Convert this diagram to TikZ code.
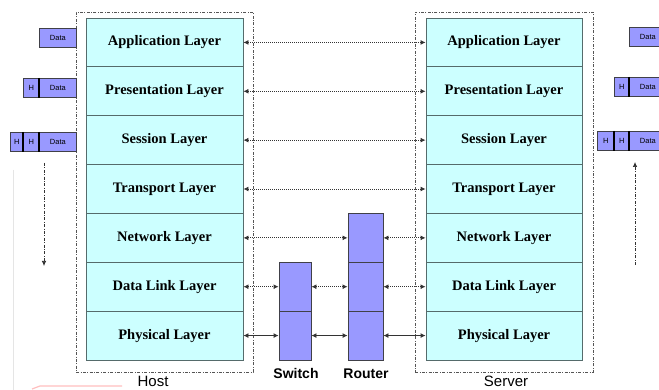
\documentclass[tikz,border=0pt]{standalone}
\usepackage{fontspec}
\setmainfont{Liberation Serif}
\setsansfont{Liberation Sans}
\usetikzlibrary{arrows.meta}
\definecolor{layerfill}{HTML}{CCFFFF}
\definecolor{layerline}{HTML}{556B6B}
\definecolor{devfill}{HTML}{9999FF}
\definecolor{devline}{HTML}{404048}
\definecolor{frameline}{HTML}{555555}
\definecolor{linkline}{HTML}{333333}
\tikzset{
  layer/.style={draw=layerline, fill=layerfill, line width=0.9pt, inner sep=0pt,
    minimum height=48.857pt, font=\fontsize{14.5}{14.5}\selectfont\bfseries},
  hostlayer/.style={layer, minimum width=157pt},
  srvlayer/.style={layer, minimum width=156pt},
  devbox/.style={draw=devline, fill=devfill, line width=0.9pt, inner sep=0pt,
    minimum height=48.857pt},
  frame/.style={draw=frameline, line width=0.7pt,
    dash pattern=on 3pt off 1.5pt on 0.8pt off 1.5pt, inner sep=0pt},
  pkt/.style={draw=devline, fill=devfill, line width=0.8pt, inner sep=0pt,
    minimum height=19pt, anchor=north west,
    font=\sffamily\fontsize{7.5}{7.5}\selectfont},
  peer/.style={{Latex[length=5pt,width=5pt]}-{Latex[length=5pt,width=5pt]},
    draw=linkline, line width=0.9pt, dash pattern=on 1pt off 1pt},
  wire/.style={{Latex[length=5pt,width=5pt]}-{Latex[length=5pt,width=5pt]},
    draw=linkline, line width=0.9pt},
  flow/.style={-{Latex[length=5pt,width=4.5pt]}, draw=linkline, line width=0.7pt,
    dash pattern=on 3pt off 1.5pt on 0.8pt off 1.5pt},
  caption/.style={font=\sffamily\fontsize{15}{15}\selectfont, anchor=base, inner sep=0pt},
  devcaption/.style={font=\sffamily\fontsize{14}{14}\selectfont\bfseries, anchor=base, inner sep=0pt},
}
\begin{document}
\begin{tikzpicture}[x=1pt, y=-1pt]
\useasboundingbox[fill=white] (0,0) rectangle (659,390);

% faint scan marks
\draw[black!10, line width=0.6pt] (13,170) -- (13,390);
\draw[red!25, line width=1.2pt] (32,389) -- (40,386) -- (122,386);

% dash-dot frames round the two end systems
\node[frame, minimum width=177pt, minimum height=360pt] (hostframe) at (164.5,192) {};
\node[frame, minimum width=178pt, minimum height=360pt] (srvframe) at (504,192) {};

% protocol stacks
\foreach \i/\name in {1/Application Layer, 2/Presentation Layer, 3/Session Layer,
    4/Transport Layer, 5/Network Layer, 6/Data Link Layer, 7/Physical Layer} {
  \node[hostlayer] (h\i) at (164.5, {18+48.857*(\i-0.5)}) {\name};
  \node[srvlayer] (s\i) at (504, {18+48.857*(\i-0.5)}) {\name};
}

% switch and router
\node[devbox, minimum width=32pt] (sw1) at (295, {18+48.857*5.5}) {};
\node[devbox, minimum width=32pt] (sw2) at (295, {18+48.857*6.5}) {};
\node[devbox, minimum width=35pt] (r1) at (365.5, {18+48.857*4.5}) {};
\node[devbox, minimum width=35pt] (r2) at (365.5, {18+48.857*5.5}) {};
\node[devbox, minimum width=35pt] (r3) at (365.5, {18+48.857*6.5}) {};

% captions
\node[caption] (hostlbl) at (153,386.5) {Host};
\node[caption] (srvlbl) at (506,386.5) {Server};
\node[devcaption] (swlbl) at (296,378) {Switch};
\node[devcaption] (rtlbl) at (366,378) {Router};

% peer-to-peer links
\foreach \i in {1,2,3,4} {
  \draw[peer] (h\i.east) -- (s\i.west);
}
\draw[peer] (h5.east) -- (r1.west);
\draw[peer] (r1.east) -- (s5.west);
\draw[peer] (h6.east) -- (sw1.west);
\draw[peer] (sw1.east) -- (r2.west);
\draw[peer] (r2.east) -- (s6.west);
\draw[wire] (h7.east) -- (sw2.west);
\draw[wire] (sw2.east) -- (r3.west);
\draw[wire] (r3.east) -- (s7.west);

% encapsulated data units, sending side
\node[pkt, minimum width=37pt] (ld1) at (39,28) {Data};
\node[pkt, minimum width=16pt] (lh2a) at (23,78) {H};
\node[pkt, minimum width=37pt] (ld2) at (39,78) {Data};
\node[pkt, minimum width=13pt] (lh3a) at (10,132) {H};
\node[pkt, minimum width=16pt] (lh3b) at (23,132) {H};
\node[pkt, minimum width=37pt] (ld3) at (39,132) {Data};
\draw[black, line width=1.1pt] (ld2.north west) -- (ld2.south west);
\draw[black, line width=1.1pt] (lh3b.north west) -- (lh3b.south west);
\draw[black, line width=1.1pt] (ld3.north west) -- (ld3.south west);

% encapsulated data units, receiving side
\node[pkt, minimum width=37pt] (rd1) at (629,27) {Data};
\node[pkt, minimum width=15pt] (rh2a) at (614,77) {H};
\node[pkt, minimum width=37pt] (rd2) at (629,77) {Data};
\node[pkt, minimum width=17pt] (rh3a) at (597,131) {H};
\node[pkt, minimum width=15pt] (rh3b) at (614,131) {H};
\node[pkt, minimum width=37pt] (rd3) at (629,131) {Data};
\draw[black, line width=1.1pt] (rd2.north west) -- (rd2.south west);
\draw[black, line width=1.1pt] (rh3b.north west) -- (rh3b.south west);
\draw[black, line width=1.1pt] (rd3.north west) -- (rd3.south west);

% direction of flow
\coordinate (down1) at (44,163);
\coordinate (down2) at (44,266);
\draw[flow] (down1) -- (down2);
\coordinate (up1) at (635,265);
\coordinate (up2) at (635,162);
\draw[flow] (up1) -- (up2);
\end{tikzpicture}
\end{document}
